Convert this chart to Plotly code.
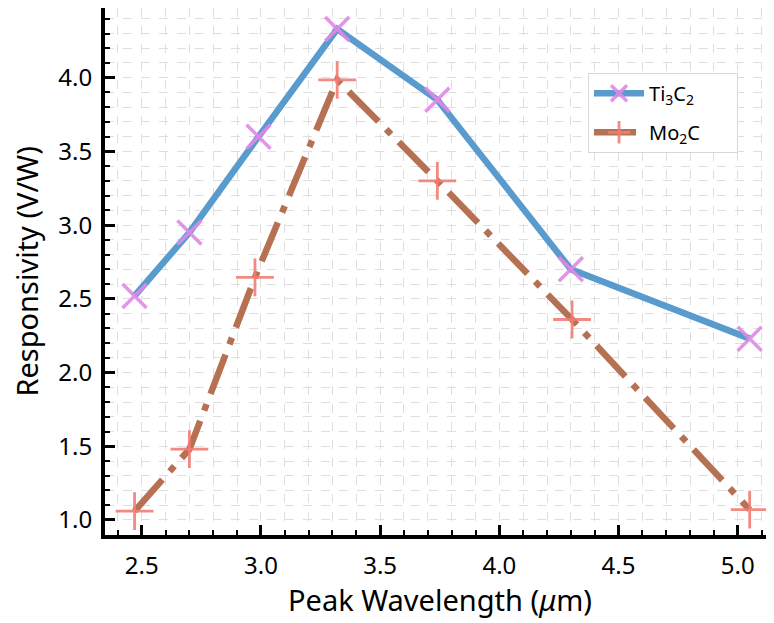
import plotly.graph_objects as go

wavelength_ti = [2.47, 2.70, 2.99, 3.32, 3.74, 4.30, 5.05]
resp_ti = [2.52, 2.95, 3.60, 4.33, 3.85, 2.70, 2.23]
wavelength_mo = [2.47, 2.70, 2.975, 3.32, 3.74, 4.305, 5.05]
resp_mo = [1.06, 1.48, 2.645, 3.985, 3.30, 2.36, 1.07]
names = ["Ti<sub>3</sub>C<sub>2</sub>", "Mo<sub>2</sub>C"]
xticks = [2.5, 3.0, 3.5, 4.0, 4.5, 5.0]
yticks = [1.0, 1.5, 2.0, 2.5, 3.0, 3.5, 4.0]
x_title = "Peak Wavelength (<i>μ</i>m)"
y_title = "Responsivity (V/W)"

FONT = "Noto Sans"
PAD = "\u00a0" * 6

fig = go.Figure()
fig.add_trace(go.Scatter(
    x=wavelength_ti, y=resp_ti, name=names[0] + PAD, mode="lines+markers", legendgroup="a",
    line=dict(color="rgb(90,155,205)", width=6.5),
    marker=dict(symbol="x-thin", size=24, color="rgba(225,135,232,0.9)",
                line=dict(color="rgba(225,135,232,0.9)", width=3.5)),
))
fig.add_trace(go.Scatter(
    x=wavelength_mo, y=resp_mo, name=names[1] + PAD, mode="lines+markers", legendgroup="b",
    line=dict(color="rgb(182,112,82)", width=6.5, dash="42px,11px,7px,11px"),
    marker=dict(symbol="cross-thin", size=27, color="rgba(242,125,115,0.9)",
                line=dict(color="rgba(242,125,115,0.9)", width=2.8)),
))

grid = dict(showgrid=True, griddash="dash", gridcolor="#dedede", gridwidth=1)
fig.update_layout(
    width=766, height=615,
    margin=dict(l=97, r=0, t=0, b=88, autoexpand=False),
    paper_bgcolor="white", plot_bgcolor="white",
    font=dict(family=FONT, color="black"),
    showlegend=True,
    legend=dict(x=0.722, y=0.877, xanchor="left", yanchor="top",
                bordercolor="#d8d8d8", borderwidth=1, bgcolor="white",
                font=dict(size=20, family=FONT), itemwidth=50,
                tracegroupgap=10),
    xaxis=dict(
        range=[2.346, 5.152], tickvals=xticks,
        ticktext=[f"{v:.1f}" for v in xticks],
        ticks="inside", ticklen=10, tickwidth=3, tickcolor="black",
        showline=True, linecolor="black", linewidth=4, mirror=True,
        tickfont=dict(size=24), zeroline=False, automargin=False,
        ticklabelstandoff=6,
        minor=dict(ticks="inside", ticklen=5, tickwidth=2, tickcolor="black", dtick=0.1,
                   tick0=2.0, **grid),
        **grid,
    ),
    yaxis=dict(
        range=[0.898, 4.473], tickvals=yticks,
        ticktext=[f"{v:.1f}" for v in yticks],
        ticks="inside", ticklen=10, tickwidth=3, tickcolor="black",
        showline=True, linecolor="black", linewidth=4,
        tickfont=dict(size=24), zeroline=False, automargin=False,
        ticklabelstandoff=4,
        minor=dict(ticks="inside", ticklen=5, tickwidth=2, tickcolor="black", dtick=0.1,
                   tick0=1.0, **grid),
        **grid,
    ),
    annotations=[
        dict(text=x_title, xref="paper", yref="paper", x=0.5, y=-0.123, yanchor="middle",
             xanchor="center", showarrow=False, font=dict(size=29)),
        dict(text=y_title, xref="paper", yref="paper", x=-0.118, y=0.5, xanchor="center",
             yanchor="middle", textangle=-90, showarrow=False, font=dict(size=29)),
    ],
)
fig.write_html("out.html")
